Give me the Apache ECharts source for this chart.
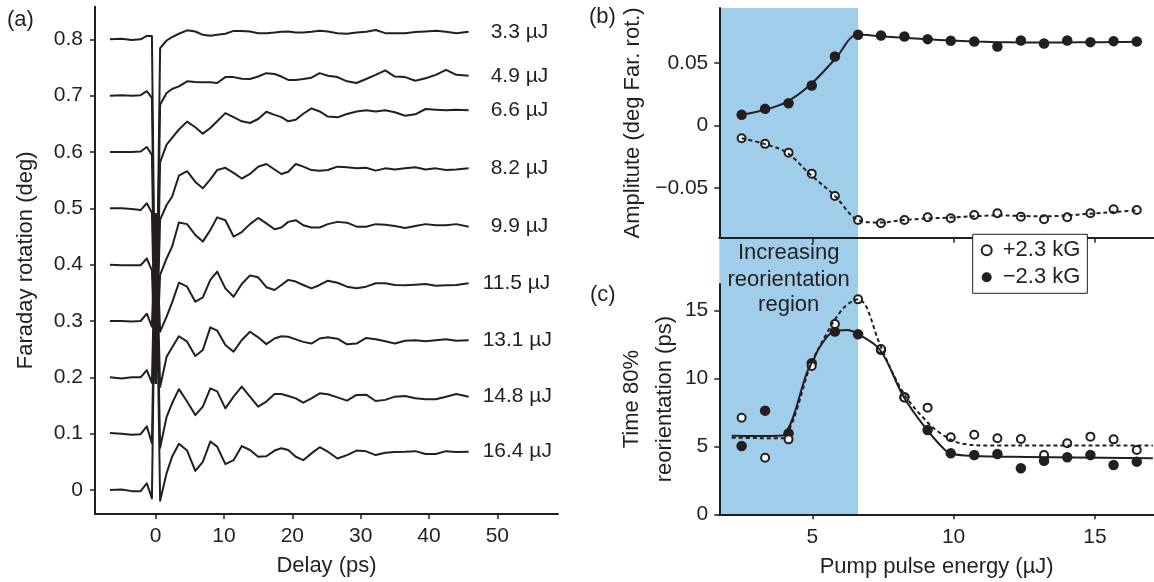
<!DOCTYPE html>
<html><head><meta charset="utf-8">
<script src="https://cdn.jsdelivr.net/npm/echarts@6/dist/echarts.min.js"></script>
<style>html,body{margin:0;padding:0;background:#fff}#chart{width:1154px;height:582px}</style>
</head><body><div id="chart"></div>
<script>
// ---------- Panel (a): Faraday rotation traces ----------
const delay = [-6.7, -5, -3.5, -2.2, -1.3, -0.55, 0, 0.65, 1.6, 2.4, 3.4, 4.6, 5.8, 6.9, 8.0, 9.0, 10.2, 11.4, 12.6, 13.8, 15.0, 16.2, 17.4, 18.4, 19.4, 20.5, 21.6, 22.8, 24.0, 25.2, 26.6, 28.0, 29.4, 30.8, 32.2, 33.6, 35.0, 36.5, 38.0, 39.5, 41.0, 42.5, 44.0, 45.8];
const traceOffsets = [0.8, 0.7, 0.6, 0.5, 0.4, 0.3, 0.2, 0.1, 0];
const traceLabels = ['3.3 µJ', '4.9 µJ', '6.6 µJ', '8.2 µJ', '9.9 µJ', '11.5 µJ', '13.1 µJ', '14.8 µJ', '16.4 µJ'];
const trace3_3 = [0, 0.001, -0.001, 0, 0.006, 0.006, -0.61, -0.0154, -0.002, 0.004, 0.010, 0.016, 0.014, 0.008, 0.0065, 0.008, 0.010, 0.015, 0.015, 0.014, 0.011, 0.011, 0.012, 0.0136, 0.014, 0.0124, 0.0124, 0.0136, 0.0154, 0.014, 0.011, 0.010, 0.012, 0.0136, 0.0166, 0.011, 0.0107, 0.0107, 0.013, 0.014, 0.0154, 0.0136, 0.0107, 0.0136];
const trace4_9 = [0, 0.001, 0, 0.001, 0.008, -0.004, -0.51, -0.016, 0.0047, 0.0118, 0.0166, 0.0255, 0.0243, 0.0237, 0.0237, 0.0225, 0.033, 0.033, 0.030, 0.0296, 0.034, 0.040, 0.0385, 0.034, 0.028, 0.028, 0.0296, 0.032, 0.040, 0.0355, 0.033, 0.0255, 0.0225, 0.0296, 0.037, 0.045, 0.034, 0.033, 0.0266, 0.031, 0.037, 0.046, 0.037, 0.0355];
const trace6_6 = [0, 0, 0, 0.001, 0.009, -0.005, -0.41, -0.018, 0.013, 0.025, 0.040, 0.054, 0.044, 0.0326, 0.0426, 0.0545, 0.069, 0.062, 0.0545, 0.0515, 0.0586, 0.0716, 0.066, 0.062, 0.0545, 0.0574, 0.068, 0.0776, 0.072, 0.063, 0.0616, 0.0675, 0.072, 0.074, 0.072, 0.074, 0.0705, 0.0645, 0.067, 0.0764, 0.075, 0.074, 0.075, 0.074];
const trace8_2 = [0, 0, -0.001, -0.003, 0.009, -0.008, -0.31, -0.02, 0.006, 0.0207, 0.058, 0.066, 0.047, 0.0355, 0.0515, 0.068, 0.072, 0.063, 0.053, 0.061, 0.074, 0.0787, 0.069, 0.061, 0.065, 0.0787, 0.074, 0.068, 0.0669, 0.068, 0.074, 0.073, 0.071, 0.072, 0.067, 0.071, 0.069, 0.071, 0.073, 0.069, 0.071, 0.068, 0.069, 0.071];
const trace9_9 = [0, -0.001, -0.001, -0.001, 0.011, -0.01, -0.21, -0.018, 0.011, 0.032, 0.075, 0.072, 0.0527, 0.041, 0.0616, 0.084, 0.079, 0.05, 0.058, 0.072, 0.083, 0.0734, 0.063, 0.066, 0.076, 0.079, 0.070, 0.066, 0.066, 0.072, 0.076, 0.0746, 0.0675, 0.0675, 0.072, 0.071, 0.0687, 0.065, 0.0687, 0.072, 0.070, 0.070, 0.072, 0.0675];
const trace11_5 = [0, 0, -0.001, 0, 0.013, -0.01, 0.19, -0.019, 0.0077, 0.0326, 0.068, 0.061, 0.0343, 0.042, 0.073, 0.0876, 0.058, 0.043, 0.0657, 0.081, 0.0776, 0.060, 0.055, 0.064, 0.073, 0.070, 0.064, 0.058, 0.064, 0.0716, 0.068, 0.061, 0.058, 0.061, 0.067, 0.067, 0.064, 0.0634, 0.0645, 0.0657, 0.0628, 0.0634, 0.064, 0.067];
const trace13_1 = [0, -0.002, 0, 0, 0.013, -0.01, 0.29, -0.017, 0.0367, 0.053, 0.073, 0.0634, 0.038, 0.0486, 0.0888, 0.083, 0.0574, 0.0456, 0.0663, 0.081, 0.071, 0.059, 0.069, 0.073, 0.072, 0.0675, 0.063, 0.060, 0.069, 0.071, 0.0687, 0.0586, 0.060, 0.070, 0.0675, 0.064, 0.060, 0.065, 0.066, 0.064, 0.066, 0.0675, 0.065, 0.066];
const trace14_8 = [0.001, 0, -0.002, -0.001, 0.013, -0.017, 0.39, -0.025, 0.030, 0.054, 0.079, 0.057, 0.033, 0.048, 0.0805, 0.075, 0.045, 0.0657, 0.0835, 0.0657, 0.048, 0.057, 0.0704, 0.0704, 0.067, 0.0627, 0.055, 0.0627, 0.0716, 0.070, 0.0645, 0.0586, 0.0687, 0.0693, 0.058, 0.060, 0.0657, 0.067, 0.063, 0.061, 0.061, 0.0657, 0.0704, 0.0657];
const trace16_4 = [0, 0.001, -0.002, -0.002, 0.012, -0.015, 0.49, -0.019, 0.03, 0.059, 0.082, 0.07, 0.034, 0.050, 0.086, 0.077, 0.046, 0.053, 0.078, 0.071, 0.059, 0.060, 0.070, 0.074, 0.071, 0.059, 0.053, 0.065, 0.076, 0.068, 0.056, 0.062, 0.070, 0.0687, 0.062, 0.066, 0.0675, 0.068, 0.069, 0.064, 0.064, 0.069, 0.0675, 0.068];
const traces = [trace3_3, trace4_9, trace6_6, trace8_2, trace9_9, trace11_5, trace13_1, trace14_8, trace16_4];
const aXTicks = [0, 10, 20, 30, 40, 50];
const aYTicks = [0, 0.1, 0.2, 0.3, 0.4, 0.5, 0.6, 0.7, 0.8];

// ---------- Panels (b) and (c) ----------
const energy = [2.5, 3.33, 4.16, 4.98, 5.8, 6.62, 7.43, 8.26, 9.08, 9.9, 10.73, 11.55, 12.38, 13.2, 14.02, 14.84, 15.66, 16.48];
const ampMinus = [0.0086, 0.0134, 0.0179, 0.032, 0.0552, 0.0726, 0.072, 0.0712, 0.0691, 0.0678, 0.0672, 0.0632, 0.068, 0.0656, 0.068, 0.0667, 0.0675, 0.0672];
const ampPlus = [-0.0101, -0.0146, -0.0216, -0.0384, -0.0562, -0.0754, -0.078, -0.0754, -0.0733, -0.0741, -0.0714, -0.0701, -0.0728, -0.0749, -0.0733, -0.0701, -0.0669, -0.0674];
const ampFitX = [2.5, 3.3, 4.1, 4.9, 5.8, 6.62, 7.4, 8.2, 9.1, 9.9, 10.7, 11.5, 12.4, 13.2, 14.0, 14.8, 15.7, 16.5];
const ampFitMinus = [0.0088, 0.0125, 0.019, 0.032, 0.053, 0.0728, 0.0715, 0.0703, 0.069, 0.068, 0.0672, 0.0667, 0.0665, 0.0664, 0.0665, 0.0666, 0.0668, 0.067];
const ampFitPlus = [-0.0101, -0.0146, -0.0216, -0.0384, -0.0562, -0.0754, -0.0775, -0.0755, -0.0742, -0.0735, -0.0725, -0.0718, -0.0722, -0.0725, -0.0718, -0.0705, -0.069, -0.0678];
const timeMinus = [5.02, 7.62, 5.95, 11.1, 13.43, 13.23, 12.1, 8.6, 6.2, 4.48, 4.36, 4.43, 3.38, 3.94, 4.19, 4.36, 3.62, 3.87];
const timePlus = [7.1, 4.16, 5.51, 10.9, 13.99, 15.8, 12.15, 8.58, 7.84, 5.66, 5.85, 5.59, 5.54, 4.36, 5.22, 5.71, 5.51, 4.73];
const timeFitMinusX = [2.15, 3.0, 3.97, 4.1, 4.33, 4.8, 5.04, 5.27, 5.74, 6.22, 6.63, 7.4, 8.23, 9.06, 9.58, 9.87, 10.7, 12.58, 17.05];
const timeFitMinusY = [5.78, 5.76, 5.8, 6.1, 7.18, 10.37, 11.35, 12.32, 13.43, 13.55, 13.24, 12.08, 8.65, 6.2, 4.97, 4.49, 4.29, 4.22, 4.12];
const timeFitPlusX = [2.15, 3.0, 3.97, 4.2, 4.45, 4.92, 5.51, 5.87, 6.22, 6.63, 6.9, 7.4, 8.23, 9.06, 9.54, 10.24, 11.4, 17.05];
const timeFitPlusY = [5.63, 5.6, 5.59, 6.3, 7.67, 10.85, 13.3, 14.53, 15.39, 15.8, 15.3, 12.45, 8.9, 6.8, 5.95, 5.22, 5.05, 5.05];
const regionEnd = 6.62;
const bcXTicks = [5, 10, 15];
const bYTicks = [-0.05, 0, 0.05];
const cYTicks = [0, 5, 10, 15];
const legendNames = ['+2.3 kG', '\u22122.3 kG'];

// ---------- styling ----------
const ink = '#231f20';
const FF = "'Liberation Sans', Arial, Helvetica, sans-serif";
const blue = '#9fcdea';

function axis(o) {
  return {
    type: 'value', gridIndex: o.grid, min: o.min, max: o.max,
    splitLine: { show: false },
    axisLine: { show: true, onZero: false, lineStyle: { color: ink, width: 2 } },
    axisTick: { show: true, customValues: o.ticks, length: 5, lineStyle: { color: ink, width: 1.5 } },
    axisLabel: { show: o.labels !== false, customValues: o.ticks, color: ink, fontSize: 21, fontFamily: FF, margin: o.margin || 12, formatter: o.fmt },
    name: o.name || '', nameLocation: 'middle', nameGap: o.nameGap || 40,
    nameTextStyle: { color: ink, fontSize: 22, fontFamily: FF, lineHeight: o.nameLH || 24 }
  };
}
const minusFmt = v => v === 0 ? '0' : (v < 0 ? '\u2212' : '') + Math.abs(v).toFixed(2);

const chart = echarts.init(document.getElementById('chart'), null, { renderer: 'canvas' });
const series = [];
traces.forEach((tr, k) => {
  series.push({
    type: 'line', xAxisIndex: 0, yAxisIndex: 0, name: traceLabels[k],
    data: delay.map((t, i) => [t, traceOffsets[k] + tr[i]]),
    showSymbol: false, silent: true,
    lineStyle: { color: ink, width: 2, opacity: 1, join: 'round' }, itemStyle: { color: ink },
    endLabel: { show: true, formatter: traceLabels[k], color: ink, fontSize: 21, fontFamily: FF, distance: traceLabels[k].length > 6 ? 14 : 22 }
  });
});
function fitLine(xi, yi, xs, ys, dashed) {
  return { type: 'line', xAxisIndex: xi, yAxisIndex: yi, data: xs.map((x, i) => [x, ys[i]]), showSymbol: false, silent: true, smooth: 0.35,
    lineStyle: { color: ink, width: 2, opacity: 1, type: dashed ? [4, 3] : 'solid' } };
}
function pts(xi, yi, ys, open) {
  return { type: 'scatter', xAxisIndex: xi, yAxisIndex: yi, name: open ? legendNames[0] : legendNames[1],
    data: energy.map((x, i) => [x, ys[i]]), symbol: 'circle', symbolSize: open ? 8 : 10.5,
    itemStyle: open ? { color: '#fff', borderColor: ink, borderWidth: 2, opacity: 1 } : { color: ink, borderWidth: 0, opacity: 1 } };
}
series.push(fitLine(1, 1, ampFitX, ampFitMinus, false));
series.push(fitLine(1, 1, ampFitX, ampFitPlus, true));
series.push(pts(1, 1, ampMinus, false));
series.push(pts(1, 1, ampPlus, true));
series.push(fitLine(2, 2, timeFitMinusX, timeFitMinusY, false));
series.push(fitLine(2, 2, timeFitPlusX, timeFitPlusY, true));
series.push(pts(2, 2, timeMinus, false));
series.push(pts(2, 2, timePlus, true));

const option = {
  animation: false,
  textStyle: { fontFamily: FF },
  grid: [
    { left: 95, top: 6.7, width: 463, height: 507.3, containLabel: false, outerBoundsMode: 'none' },
    { left: 719.3, top: 8, width: 434.7, height: 229.7, containLabel: false, outerBoundsMode: 'none' },
    { left: 719.3, top: 284, width: 434.7, height: 230.3, containLabel: false, outerBoundsMode: 'none' }
  ],
  xAxis: [
    axis({ grid: 0, min: -8.88, max: 58.88, ticks: aXTicks, name: 'Delay (ps)', nameGap: 40, fmt: v => String(v) }),
    axis({ grid: 1, min: 1.71, max: 17.09, ticks: bcXTicks, labels: false }),
    axis({ grid: 2, min: 1.71, max: 17.09, ticks: bcXTicks, name: 'Pump pulse energy (µJ)', nameGap: 41, fmt: v => String(v) })
  ],
  yAxis: [
    axis({ grid: 0, min: -0.0426, max: 0.858, ticks: aYTicks, name: 'Faraday rotation (deg)', nameGap: 57, margin: 12, fmt: v => v === 0 ? '0' : v.toFixed(1) }),
    axis({ grid: 1, min: -0.0896, max: 0.094, ticks: bYTicks, name: 'Amplitute (deg Far. rot.)', nameGap: 74, margin: 11, fmt: minusFmt }),
    axis({ grid: 2, min: 0, max: 16.93, ticks: cYTicks, name: 'Time 80%\nreorientation (ps)', nameGap: 34, nameLH: 33, margin: 11, fmt: v => String(v) })
  ],
  legend: {
    show: true, orient: 'vertical', left: 972.7, top: 234.3, selectedMode: false,
    padding: [5, 7, 5, 8], itemGap: 5, itemWidth: 10, itemHeight: 10,
    backgroundColor: '#fff', borderColor: ink, borderWidth: 1, borderRadius: 0,
    textStyle: { color: ink, fontSize: 22, fontFamily: FF, lineHeight: 22, padding: [0, 0, 0, 6] },
    data: [
      { name: legendNames[0], icon: 'circle', itemStyle: { color: '#fff', borderColor: ink, borderWidth: 2, opacity: 1 } },
      { name: legendNames[1], icon: 'circle', itemStyle: { color: ink, borderWidth: 0, opacity: 1 } }
    ]
  },
  series: series
};
chart.setOption(option);

// shaded "increasing reorientation" band spanning panels (b) and (c)
const bandLeft = chart.convertToPixel({ xAxisIndex: 1 }, option.xAxis[1].min);
const bandRight = chart.convertToPixel({ xAxisIndex: 1 }, regionEnd);
const bandTop = chart.convertToPixel({ yAxisIndex: 1 }, option.yAxis[1].max);
const bandBottom = chart.convertToPixel({ yAxisIndex: 2 }, option.yAxis[2].min);
const txt = (s, x, y, align) => ({ type: 'text', z: 20, style: { text: s, x: x, y: y, fill: ink, fontSize: 22, fontFamily: FF, textAlign: align || 'left', textVerticalAlign: 'middle' } });
chart.setOption({
  graphic: { elements: [
    { type: 'rect', z: -10, silent: true, shape: { x: bandLeft, y: bandTop, width: bandRight - bandLeft, height: bandBottom - bandTop }, style: { fill: blue } },
    txt('Increasing', (bandLeft + bandRight) / 2, 253, 'center'),
    txt('reorientation', (bandLeft + bandRight) / 2, 279.5, 'center'),
    txt('region', (bandLeft + bandRight) / 2, 305, 'center'),
    txt('(a)', 7, 20),
    txt('(b)', 589, 17),
    txt('(c)', 590, 295)
  ] }
});
</script>
</body></html>
